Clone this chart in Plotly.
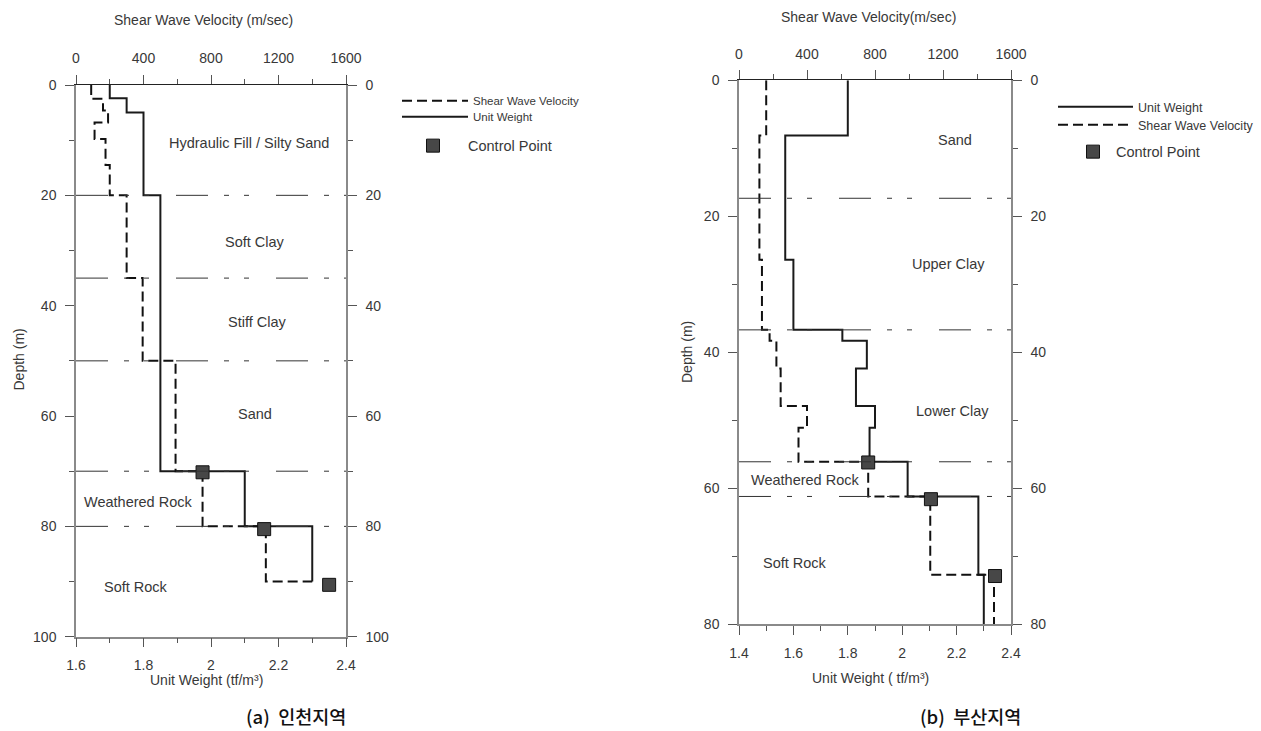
import plotly.graph_objects as go

W, H = 1261, 731

# ---------------- data : (a) Incheon ----------------
inc_uw_top = [0, 2.4, 5.0, 20, 70, 80]
inc_uw_val = [1.70, 1.75, 1.80, 1.85, 2.10, 2.30]
inc_uw_bottom = 90

inc_vs_top = [0, 2.5, 4.6, 6.8, 9.8, 14.5, 20, 35, 50, 70, 80]
inc_vs_val = [90, 160, 190, 110, 175, 200, 300, 395, 590, 750, 1125]
inc_vs_bottom = 90
inc_vs_end = 1400

inc_cp_depth = [70.2, 80.5, 90.6]
inc_cp_vs = [750, 1115, 1500]

inc_bounds = [20, 35, 50, 70, 80]
inc_names = ["Hydraulic Fill / Silty Sand", "Soft Clay", "Stiff Clay", "Sand",
             "Weathered Rock", "Soft Rock"]
inc_name_uw = [2.113, 2.130, 2.139, 2.131, 1.785, 1.779]
inc_name_depth = [10.5, 28.4, 43.0, 59.6, 75.6, 90.9]

# ---------------- data : (b) Busan ----------------
bus_uw_top = [0, 8.1, 26.4, 36.7, 38.3, 42.4, 47.9, 51.1, 56.1, 61.2, 72.7]
bus_uw_val = [1.80, 1.57, 1.60, 1.78, 1.87, 1.83, 1.90, 1.88, 2.02, 2.28, 2.30]
bus_uw_bottom = 80

bus_vs_top = [0, 8.1, 26.4, 36.7, 38.3, 42.4, 47.9, 51.1, 56.1, 61.2, 72.7]
bus_vs_val = [160, 120, 135, 180, 220, 245, 400, 350, 760, 1125, 1500]
bus_vs_bottom = 80
bus_vs_end = 1500

bus_cp_depth = [56.2, 61.6, 72.9]
bus_cp_vs = [760, 1129, 1506]

bus_bounds = [17.35, 36.7, 56.1, 61.2]
bus_names = ["Sand", "Upper Clay", "Lower Clay", "Weathered Rock", "Soft Rock"]
bus_name_uw = [2.194, 2.172, 2.186, 1.644, 1.606]
bus_name_depth = [8.8, 27.0, 48.6, 58.8, 71.0]

# ---------------- helpers ----------------
FONT = "Liberation Sans, Arial, sans-serif"
TXT = "#383838"


def px(x):
    return x / W


def py(y):
    return 1 - y / H


fig = go.Figure()

DASH_VS = "10px,5px"
DASH_BOUND = "32px,16px,5px,15px,5px,27px"

# Incheon traces
fig.add_trace(go.Scatter(
    x=inc_vs_val + [inc_vs_end], y=inc_vs_top + [inc_vs_bottom],
    xaxis="x2", yaxis="y", mode="lines", line_shape="vh",
    line=dict(color="#111111", width=2, dash=DASH_VS),
    name="Shear Wave Velocity", legend="legend"))
fig.add_trace(go.Scatter(
    x=inc_uw_val + [inc_uw_val[-1]], y=inc_uw_top + [inc_uw_bottom],
    xaxis="x", yaxis="y", mode="lines", line_shape="vh",
    line=dict(color="#1a1a1a", width=2),
    name="Unit Weight", legend="legend2"))
fig.add_trace(go.Scatter(
    x=inc_cp_vs, y=inc_cp_depth, xaxis="x2", yaxis="y", mode="markers",
    marker=dict(symbol="square", size=13, color="#474747",
                line=dict(color="#111111", width=1)),
    name="Control Point", legend="legend3"))
# invisible carrier so that the right-hand depth axis is drawn
fig.add_trace(go.Scatter(
    x=inc_uw_val[:1], y=inc_uw_top[:1], xaxis="x", yaxis="y2", mode="markers",
    marker=dict(opacity=0), showlegend=False, hoverinfo="skip"))

# Busan traces
fig.add_trace(go.Scatter(
    x=bus_uw_val + [bus_uw_val[-1]], y=bus_uw_top + [bus_uw_bottom],
    xaxis="x3", yaxis="y3", mode="lines", line_shape="vh",
    line=dict(color="#1a1a1a", width=2),
    name="Unit Weight", legend="legend4"))
fig.add_trace(go.Scatter(
    x=bus_vs_val + [bus_vs_end], y=bus_vs_top + [bus_vs_bottom],
    xaxis="x4", yaxis="y3", mode="lines", line_shape="vh",
    line=dict(color="#111111", width=2, dash=DASH_VS),
    name="Shear Wave Velocity", legend="legend5"))
fig.add_trace(go.Scatter(
    x=bus_cp_vs, y=bus_cp_depth, xaxis="x4", yaxis="y3", mode="markers",
    marker=dict(symbol="square", size=13, color="#474747",
                line=dict(color="#111111", width=1)),
    name="Control Point", legend="legend6"))
fig.add_trace(go.Scatter(
    x=bus_uw_val[:1], y=bus_uw_top[:1], xaxis="x3", yaxis="y4", mode="markers",
    marker=dict(opacity=0), showlegend=False, hoverinfo="skip"))

# ---------------- axes ----------------
tickfont = dict(family=FONT, size=14, color=TXT)
GRAY = "#8a8a8a"


def xax(dom, rng, dtick, mdtick, side, anchor, linecolor, overlay=None):
    d = dict(domain=dom, range=rng, dtick=dtick, tick0=rng[0], side=side, anchor=anchor,
             showgrid=False, zeroline=False, showline=True, linecolor=linecolor,
             linewidth=1.5 if linecolor == GRAY else 1,
             ticks="outside", ticklen=9, tickwidth=1, tickcolor="#555555",
             minor=dict(dtick=mdtick, ticks="outside", ticklen=5, tickwidth=1,
                        tickcolor="#555555", showgrid=False),
             tickfont=tickfont, automargin=False, ticklabelstandoff=6, fixedrange=True)
    if overlay:
        d["overlaying"] = overlay
    return d


def yax(dom, rng, side, anchor, overlay=None):
    d = dict(domain=dom, range=rng, dtick=20, tick0=0, side=side, anchor=anchor,
             showgrid=False, zeroline=False, showline=True, linecolor=GRAY, linewidth=1.5,
             ticks="outside", ticklen=9, tickwidth=1, tickcolor="#555555",
             minor=dict(dtick=10, ticks="outside", ticklen=5, tickwidth=1,
                        tickcolor="#555555", showgrid=False),
             tickfont=tickfont, automargin=False, ticklabelstandoff=6, fixedrange=True)
    if overlay:
        d["overlaying"] = overlay
    return d


L_X = [px(76), px(346)]
L_Y = [py(636.7), py(85)]
R_X = [px(739), px(1011)]
R_Y = [py(624.3), py(80.3)]

fig.update_layout(
    xaxis=xax(L_X, [1.6, 2.4], 0.2, 0.1, "bottom", "y", GRAY),
    xaxis2=xax(L_X, [0, 1600], 400, 200, "top", "y", "#222222", overlay="x"),
    yaxis=yax(L_Y, [100, 0], "left", "x"),
    yaxis2=yax(L_Y, [100, 0], "right", "x", overlay="y"),
    xaxis3=xax(R_X, [1.4, 2.4], 0.2, 0.1, "bottom", "y3", GRAY),
    xaxis4=xax(R_X, [0, 1600], 400, 200, "top", "y3", "#222222", overlay="x3"),
    yaxis3=yax(R_Y, [80, 0], "left", "x3"),
    yaxis4=yax(R_Y, [80, 0], "right", "x3", overlay="y3"),
)

# ---------------- layer boundaries ----------------
shapes = []
for b in inc_bounds:
    shapes.append(dict(type="line", xref="x domain", yref="y", x0=0, x1=1, y0=b, y1=b,
                       line=dict(color="#333333", width=1, dash=DASH_BOUND)))
for b in bus_bounds:
    shapes.append(dict(type="line", xref="x3 domain", yref="y3", x0=0, x1=1, y0=b, y1=b,
                       line=dict(color="#333333", width=1, dash=DASH_BOUND)))

# ---------------- annotations ----------------
ann = []
for n, xv, yv in zip(inc_names, inc_name_uw, inc_name_depth):
    ann.append(dict(text=n, x=xv, y=yv, xref="x", yref="y", showarrow=False,
                    font=dict(family=FONT, size=14.5, color=TXT)))
for n, xv, yv in zip(bus_names, bus_name_uw, bus_name_depth):
    ann.append(dict(text=n, x=xv, y=yv, xref="x3", yref="y3", showarrow=False,
                    font=dict(family=FONT, size=14.5, color=TXT)))


def pann(text, x, y, size=14, angle=0, family=FONT, color=TXT, weight=None):
    f = dict(family=family, size=size, color=color)
    if weight:
        f["weight"] = weight
    ann.append(dict(text=text, x=px(x), y=py(y), xref="paper", yref="paper",
                    xanchor="center", yanchor="middle", showarrow=False,
                    textangle=angle, font=f, borderpad=0))


pann("Shear Wave Velocity (m/sec)", 203, 20)
pann("Depth (m)", 18.5, 360, angle=-90)
pann("Unit Weight (tf/m³)", 206, 680)
pann("(a)  인천지역", 296, 716, size=18.5, family="Noto Sans CJK KR", color="#111111", weight=500)

pann("Shear Wave Velocity(m/sec)", 868, 17)
pann("Depth (m)", 687, 352, angle=-90)
pann("Unit Weight ( tf/m³)", 870, 678)
pann("(b)  부산지역", 970, 716, size=18.5, family="Noto Sans CJK KR", color="#111111", weight=500)

# ---------------- legends ----------------


def leg(x, y, size, iw):
    return dict(x=px(x), y=py(y), xanchor="left", yanchor="middle", bgcolor="rgba(0,0,0,0)",
                borderwidth=0, itemwidth=iw, font=dict(family=FONT, size=size, color=TXT),
                itemclick=False, itemdoubleclick=False)


fig.update_layout(
    legend=leg(397, 100.7, 11.5, 66),
    legend2=leg(397, 116.7, 11.5, 66),
    legend3=leg(398, 145.7, 14.5, 60),
    legend4=leg(1053, 107, 12.5, 75),
    legend5=leg(1053, 125, 12.5, 75),
    legend6=leg(1070, 151.7, 14.5, 36),
)

fig.update_layout(
    width=W, height=H, margin=dict(l=0, r=0, t=0, b=0),
    paper_bgcolor="white", plot_bgcolor="white",
    showlegend=True, shapes=shapes, annotations=ann,
    font=dict(family=FONT, color=TXT),
)

fig.write_html("out.html", config=dict(displayModeBar=False))
